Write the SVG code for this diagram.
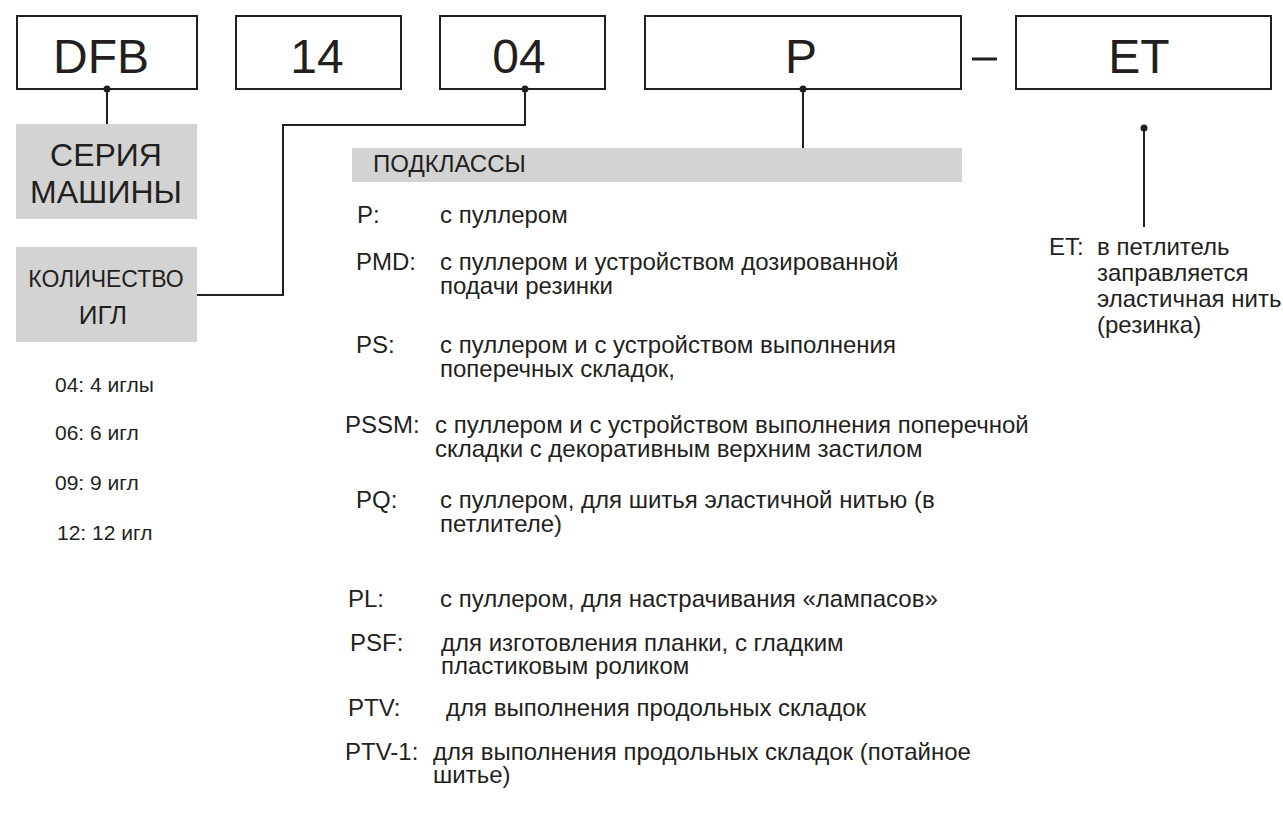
<svg xmlns="http://www.w3.org/2000/svg" width="1283" height="820" viewBox="0 0 1283 820">
<style>
.box{fill:#fff;stroke:#231f20;stroke-width:2}
.gray{fill:#d3d3d3}
.big{font-family:"Liberation Sans",Arial,sans-serif;font-size:48px;fill:#231f20;text-anchor:middle}
.t{font-family:"Liberation Sans",Arial,sans-serif;font-size:24px;fill:#231f20}
.n{font-family:"Liberation Sans",Arial,sans-serif;font-size:21px;fill:#231f20}
.hd{font-family:"Liberation Sans",Arial,sans-serif;fill:#231f20;text-anchor:middle}
.ln{fill:none;stroke:#231f20;stroke-width:2}
.dot{fill:#231f20}
</style>
<rect width="1283" height="820" fill="#fff"/>
<g id="box-dfb"><rect class="box" x="17" y="16" width="180" height="73"/><text class="big" x="101" y="73">DFB</text></g>
<g id="box-14"><rect class="box" x="236" y="16" width="165" height="73"/><text class="big" x="317" y="73">14</text></g>
<g id="box-04"><rect class="box" x="440" y="16" width="165" height="73"/><text class="big" x="519" y="73">04</text></g>
<g id="box-p"><rect class="box" x="645" y="16" width="316" height="73"/><text class="big" x="801" y="73">P</text></g>
<g id="dash"><line x1="972" y1="59" x2="997" y2="59" stroke="#231f20" stroke-width="3"/></g>
<g id="box-et"><rect class="box" x="1016" y="16" width="255" height="73"/><text class="big" x="1139" y="73">ET</text></g>
<g id="connectors">
<polyline class="ln" points="107,89 107,124"/>
<polyline class="ln" points="525,89 525,125 283,125 283,295 197,295"/>
<polyline class="ln" points="803,89 803,148"/>
<polyline class="ln" points="1144,128 1144,227"/>
<circle class="dot" cx="107" cy="89" r="3.5"/>
<circle class="dot" cx="525" cy="89" r="3.5"/>
<circle class="dot" cx="803" cy="89" r="3.5"/>
<circle class="dot" cx="1144" cy="128" r="3.5"/>
</g>
<g id="series"><rect class="gray" x="16" y="124" width="181" height="95"/><text class="hd" font-size="32"><tspan x="106" y="166">СЕРИЯ</tspan><tspan x="106" y="203">МАШИНЫ</tspan></text></g>
<g id="needles"><rect class="gray" x="16" y="247" width="181" height="95"/><text class="hd" x="106" y="287" font-size="23">КОЛИЧЕСТВО</text><text class="hd" x="103" y="324" font-size="26">ИГЛ</text></g>
<g id="needle-list">
<text class="n" x="55" y="392">04: 4 иглы</text>
<text class="n" x="55" y="440">06: 6 игл</text>
<text class="n" x="55" y="490">09: 9 игл</text>
<text class="n" x="57" y="540">12: 12 игл</text>
</g>
<g id="subclasses"><rect class="gray" x="352" y="148" width="610" height="34"/><text class="t" x="373" y="172" font-size="22">ПОДКЛАССЫ</text></g>
<g id="subclass-list">
<text class="t" x="357" y="223">P:</text><text class="t" x="440" y="223">с пуллером</text>
<text class="t" x="356" y="270">PMD:</text><text class="t"><tspan x="440" y="270">с пуллером и устройством  дозированной</tspan><tspan x="440" y="294">подачи резинки</tspan></text>
<text class="t" x="356" y="353">PS:</text><text class="t"><tspan x="440" y="353">с пуллером и с устройством выполнения</tspan><tspan x="440" y="377">поперечных складок,</tspan></text>
<text class="t" x="345" y="433">PSSM:</text><text class="t"><tspan x="435" y="433">с пуллером и с устройством выполнения поперечной</tspan><tspan x="435" y="457">складки с декоративным верхним застилом</tspan></text>
<text class="t" x="356" y="508">PQ:</text><text class="t"><tspan x="440" y="508">с пуллером,  для шитья эластичной нитью (в</tspan><tspan x="440" y="532">петлителе)</tspan></text>
<text class="t" x="348" y="607">PL:</text><text class="t" x="440" y="607">с пуллером, для настрачивания «лампасов»</text>
<text class="t" x="350" y="651">PSF:</text><text class="t"><tspan x="441" y="651">для изготовления планки, с гладким</tspan><tspan x="441" y="674">пластиковым роликом</tspan></text>
<text class="t" x="348" y="716">PTV:</text><text class="t" x="446" y="716">для выполнения продольных складок</text>
<text class="t" x="345" y="760">PTV-1:</text><text class="t"><tspan x="433" y="760">для выполнения продольных складок  (потайное</tspan><tspan x="433" y="783">шитье)</tspan></text>
</g>
<g id="et-desc">
<text class="t" x="1049" y="255">ET:</text>
<text class="t"><tspan x="1097" y="255">в петлитель</tspan><tspan x="1097" y="281">заправляется</tspan><tspan x="1097" y="307">эластичная нить</tspan><tspan x="1097" y="333">(резинка)</tspan></text>
</g>
</svg>
